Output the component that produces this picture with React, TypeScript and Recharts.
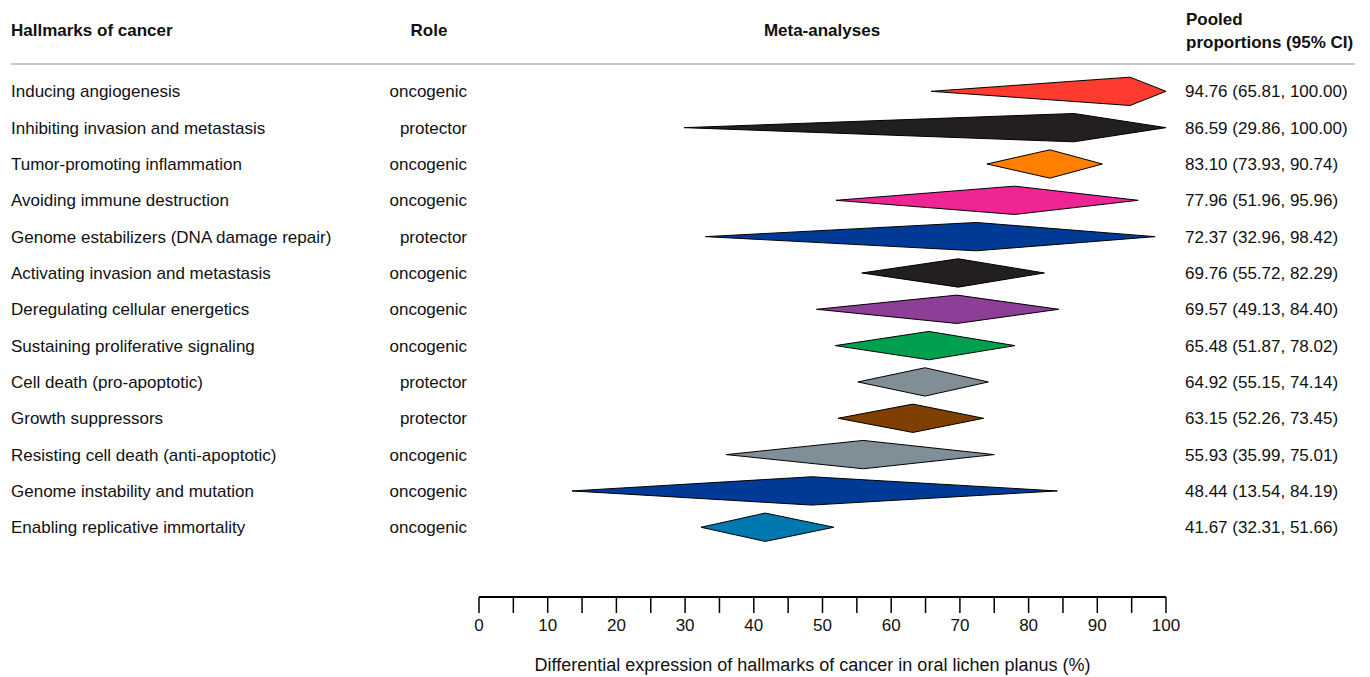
import React from 'react';
import { ComposedChart, Area, XAxis, YAxis, Customized } from 'recharts';

const HALLMARKS = [
  'Inducing angiogenesis',
  'Inhibiting invasion and metastasis',
  'Tumor-promoting inflammation',
  'Avoiding immune destruction',
  'Genome estabilizers (DNA damage repair)',
  'Activating invasion and metastasis',
  'Deregulating cellular energetics',
  'Sustaining proliferative signaling',
  'Cell death (pro-apoptotic)',
  'Growth suppressors',
  'Resisting cell death (anti-apoptotic)',
  'Genome instability and mutation',
  'Enabling replicative immortality',
];
const ROLES = [
  'oncogenic', 'protector', 'oncogenic', 'oncogenic', 'protector', 'oncogenic', 'oncogenic',
  'oncogenic', 'protector', 'protector', 'oncogenic', 'oncogenic', 'oncogenic',
];
const ESTIMATES = [94.76, 86.59, 83.1, 77.96, 72.37, 69.76, 69.57, 65.48, 64.92, 63.15, 55.93, 48.44, 41.67];
const LOWER = [65.81, 29.86, 73.93, 51.96, 32.96, 55.72, 49.13, 51.87, 55.15, 52.26, 35.99, 13.54, 32.31];
const UPPER = [100, 100, 90.74, 95.96, 98.42, 82.29, 84.4, 78.02, 74.14, 73.45, 75.01, 84.19, 51.66];
const COLORS = [
  '#FF3A2F', '#231F20', '#FF7F00', '#EF2495', '#003A97', '#231F20', '#8D3E96',
  '#00A050', '#7F8E97', '#7F3F00', '#7F8E97', '#003A97', '#0079B0',
];
const X_TICKS = [0, 5, 10, 15, 20, 25, 30, 35, 40, 45, 50, 55, 60, 65, 70, 75, 80, 85, 90, 95, 100];
const X_LABELED = [0, 10, 20, 30, 40, 50, 60, 70, 80, 90, 100];

const N = HALLMARKS.length;
const ROW_VALUES = HALLMARKS.map((_, i) => N - i);
const HALF = 0.39;
const FONT = '"Liberation Sans", Arial, Helvetica, sans-serif';
const FS = 17;

const diamonds = HALLMARKS.map((_, i) => {
  const v = N - i;
  return [
    { x: LOWER[i], range: [v, v] },
    { x: ESTIMATES[i], range: [v - HALF, v + HALF] },
    { x: UPPER[i], range: [v, v] },
  ];
});

const fmt = (n: number) => n.toFixed(2);

const RowTick = (props: any) => {
  const { y, payload } = props;
  const i = N - payload.value;
  if (i < 0 || i >= N) return null;
  return (
    <g fontFamily={FONT} fontSize={FS} fill="#111">
      <text x={11} y={y} dy="0.35em" textAnchor="start">{HALLMARKS[i]}</text>
      <text x={467} y={y} dy="0.35em" textAnchor="end">{ROLES[i]}</text>
      <text x={1185} y={y} dy="0.35em" textAnchor="start">
        {`${fmt(ESTIMATES[i])} (${fmt(LOWER[i])}, ${fmt(UPPER[i])})`}
      </text>
    </g>
  );
};

const Headers = () => (
  <g fontFamily={FONT} fontSize={FS} fontWeight="bold" fill="#111">
    <text x={11} y={30} dy="0.35em">Hallmarks of cancer</text>
    <text x={429} y={30} dy="0.35em" textAnchor="middle">Role</text>
    <text x={822} y={30} dy="0.35em" textAnchor="middle">Meta-analyses</text>
    <text x={1186} y={19} dy="0.35em">Pooled</text>
    <text x={1186} y={42} dy="0.35em">proportions (95% CI)</text>
    <line x1={11} x2={1355} y1={64} y2={64} stroke="#C8C8C8" strokeWidth={2} />
  </g>
);

export default function App() {
  return (
    <div style={{ position: 'absolute', left: 0, top: 0, background: '#fff' }}>
      <ComposedChart
        width={1370}
        height={677}
        margin={{ top: 55, right: 204, bottom: 0, left: 0 }}
        style={{ fontFamily: FONT }}
      >
        <XAxis
          type="number"
          dataKey="x"
          domain={[0, 100]}
          ticks={X_TICKS}
          interval={0}
          allowDataOverflow
          tickSize={16}
          tickMargin={6}
          height={80}
          axisLine={{ stroke: '#000', strokeWidth: 2 }}
          tickLine={{ stroke: '#000', strokeWidth: 1.5 }}
          tick={{ fill: '#111', fontSize: FS, fontFamily: FONT }}
          tickFormatter={(v: number) => (X_LABELED.includes(v) ? String(v) : '')}
          label={{
            value: 'Differential expression of hallmarks of cancer in oral lichen planus (%)',
            position: 'insideBottom',
            offset: 6,
            dx: -10,
            fill: '#111',
            fontSize: 18,
            fontFamily: FONT,
          }}
        />
        <YAxis
          type="number"
          domain={[-0.92, 14]}
          ticks={ROW_VALUES}
          interval={0}
          allowDataOverflow
          width={479}
          axisLine={false}
          tickLine={false}
          tick={(p: any) => <RowTick {...p} />}
        />
        {diamonds.map((d, i) => (
          <Area
            key={i}
            data={d}
            dataKey="range"
            type="linear"
            fill={COLORS[i]}
            fillOpacity={1}
            stroke="#000"
            strokeWidth={1}
            dot={false}
            activeDot={false}
            isAnimationActive={false}
          />
        ))}
        <Customized component={Headers} />
      </ComposedChart>
    </div>
  );
}
